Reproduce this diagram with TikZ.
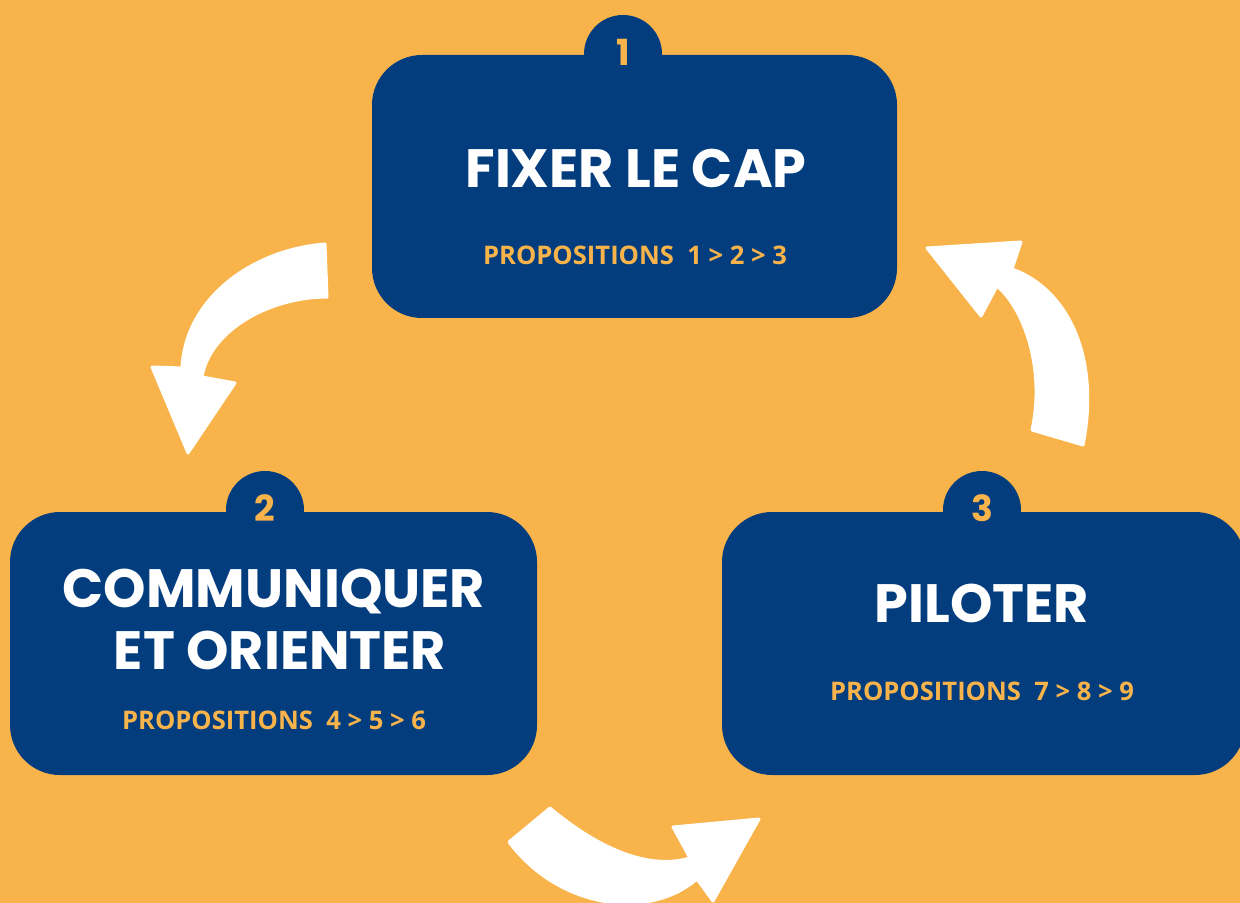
\documentclass[tikz,border=0pt]{standalone}
\usepackage{fontspec}
\newfontfamily\titlefont{Poppins}
\newfontfamily\propfont{Open Sans}
\definecolor{navy}{HTML}{033D7E}
\definecolor{amber}{HTML}{F8B44B}
\begin{document}
\begin{tikzpicture}
[
x=0.5pt,y=-0.5pt,
card/.style 2 args={fill=navy,rounded corners=25pt,inner sep=0pt,
            minimum width=#1,minimum height=#2},
badge/.style={fill=navy,circle,minimum size=39pt,inner sep=0pt},
badgenum/.style={text=amber,font=\titlefont\bfseries\fontsize{18}{18}\selectfont},
title/.style={text=white,font=\titlefont\bfseries\fontsize{27}{29}\selectfont,align=center},
props/.style={text=amber,font=\propfont\bfseries\fontsize{12.8}{14}\selectfont},
bigarrow/.style={fill=white,draw=white,line width=1.5pt,line join=round},
]
%Background
\fill[amber] (0,0) rectangle (1240,903);
\useasboundingbox (0,0) rectangle (1240,903);

%Place the badges and cards
\node[badge] (b1) at (623,54) {};
\node[badge] (b2) at (265,510) {};
\node[badge] (b3) at (982,510) {};
\node[card={262.5pt}{131.5pt}] (c1) at (634.5,186.5) {};
\node[card={263.5pt}{131.5pt}] (c2) at (273.5,643.5) {};
\node[card={261.5pt}{131.5pt}] (c3) at (983.5,643.5) {};

%Numbers
\node[badgenum] (n1) at (623,52) {1};
\node[badgenum] (n2) at (265,508) {2};
\node[badgenum] (n3) at (982,508) {3};

%Texts
\node[title] (t1) at (636,168) {FIXER LE CAP};
\node[props] (p1) at (635,255) {PROPOSITIONS\ \ 1 > 2 > 3};
\node[title] (t2a) at (274,592) {COMMUNIQUER};
\node[title] (t2b) at (280,650) {ET ORIENTER};
\node[props] (p2) at (274,720) {PROPOSITIONS\ \ 4 > 5 > 6};
\node[title] (t3) at (982,603) {PILOTER};
\node[props] (p3) at (982,691) {PROPOSITIONS\ \ 7 > 8 > 9};

%Draw the arrows
\filldraw[bigarrow] (325,244) .. controls (250,250) and (185,300) .. (182,368)
  -- (152,367) -- (188,453) -- (235,383) -- (202,377)
  .. controls (210,330) and (270,297) .. (327,297) -- cycle;
\filldraw[bigarrow] (1032,430) -- (1083,445) .. controls (1100,360) and (1070,290) .. (1012,269)
  -- (1021,242) -- (927,248) -- (981,316) -- (997,286)
  .. controls (1025,310) and (1045,370) .. (1032,430) -- cycle;
\filldraw[bigarrow] (550,808) .. controls (600,850) and (650,870) .. (690,858)
  -- (673,827) -- (759,819) -- (713,901) -- (697,879)
  .. controls (650,920) and (560,910) .. (509,842) -- cycle;
\end{tikzpicture}
\end{document}
